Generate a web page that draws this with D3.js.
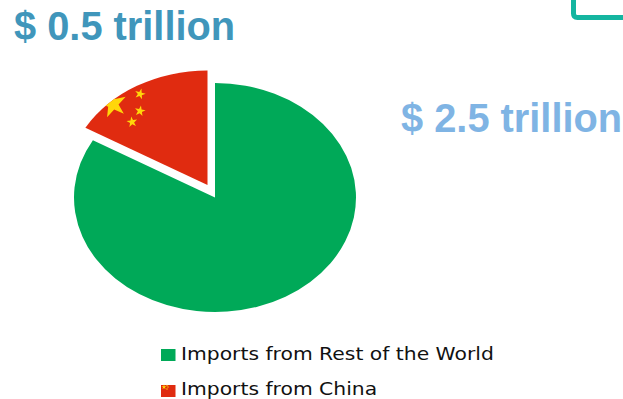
<!DOCTYPE html>
<html>
<head>
<meta charset="utf-8">
<script src="https://cdn.jsdelivr.net/npm/d3@7/dist/d3.min.js"></script>
<style>
  html, body { margin: 0; padding: 0; background: #fff; }
  svg { display: block; }
</style>
</head>
<body>
<svg id="chart" width="623" height="399"></svg>
<script>
// Import shares, in trillions of dollars
const categories = ["Imports from Rest of the World", "Imports from China"];
const importValues = [2.5, 0.5];
const valueLabels = ["$ 2.5 trillion", "$ 0.5 trillion"];
const sliceColors = ["#00A958", "#E02B10"];
const labelColors = ["#7FB4E4", "#4096BB"];

const svg = d3.select("#chart");
const rx = 141, ry = 114.5, cx = 215, cy = 197.5;
const explode = [-7.5, -12.5];

// Accent rule in the top right corner
svg.append("path")
  .attr("d", "M573.5,0 V13.5 Q573.5,17.5 577.5,17.5 H623")
  .attr("fill", "none")
  .attr("stroke", "#14B5A0")
  .attr("stroke-width", 5);

// Value headings
svg.append("text")
  .attr("x", 14).attr("y", 40)
  .attr("font-family", "Liberation Sans").attr("font-weight", 700).attr("font-size", 39.8)
  .attr("fill", labelColors[1]).text(valueLabels[1]);
svg.append("text")
  .attr("x", 401).attr("y", 132)
  .attr("font-family", "Liberation Sans").attr("font-weight", 700).attr("font-size", 39.8)
  .attr("fill", labelColors[0]).text(valueLabels[0]);

// Pie, squashed into an ellipse; the China slice is pulled out
const pie = d3.pie().sort(null).startAngle(0).endAngle(2 * Math.PI);
const arcs = pie(importValues);
const arc = d3.arc().innerRadius(0).outerRadius(rx);

const defs = svg.append("defs");
defs.append("clipPath").attr("id", "china-slice")
  .append("path")
  .attr("d", arc(arcs[1]))
  .attr("transform", `translate(${cx + explode[0]},${cy + explode[1]}) scale(1,${ry / rx})`);

arcs.forEach((d, i) => {
  const off = i === 1 ? explode : [0, 0];
  svg.append("path")
    .attr("d", arc(d))
    .attr("fill", sliceColors[i])
    .attr("transform", `translate(${cx + off[0]},${cy + off[1]}) scale(1,${ry / rx})`);
});

// Flag stars on a slice or swatch: [x, y, symbol area, rotation]
const star = d3.symbol().type(d3.symbolStar);
function drawStars(parent, stars) {
  parent.selectAll("path.star").data(stars).join("path")
    .attr("class", "star")
    .attr("d", d => star.size(d[2])())
    .attr("fill", "#FFD60A")
    .attr("transform", d => `translate(${d[0]},${d[1]}) rotate(${d[3]})`);
}
const sliceStars = [
  [113, 104, 240, -12],
  [140, 94, 36, 15],
  [140, 111, 36, 10],
  [132, 122, 36, -8]
];
drawStars(svg.append("g").attr("clip-path", "url(#china-slice)"), sliceStars);

// Legend
const legendY = [354, 390];
categories.forEach((name, i) => {
  svg.append("rect")
    .attr("x", 161).attr("y", legendY[i] - 5).attr("width", 14.5).attr("height", 12)
    .attr("fill", sliceColors[i]);
  const label = svg.append("text")
    .attr("x", 181).attr("y", legendY[i] + (i === 0 ? 6 : 5))
    .attr("font-family", "DejaVu Sans").attr("font-size", 18)
    .attr("fill", "#111").text(name);
  // Widen the lettering slightly to the legend's measure
  label.attr("textLength", label.node().getComputedTextLength() * 1.128)
    .attr("lengthAdjust", "spacingAndGlyphs");
});
drawStars(svg.append("g"), [
  [164, 387, 8, 0],
  [167, 385.5, 1.5, 0],
  [168, 387, 1.5, 0],
  [167, 389, 1.5, 0]
]);
</script>
</body>
</html>
